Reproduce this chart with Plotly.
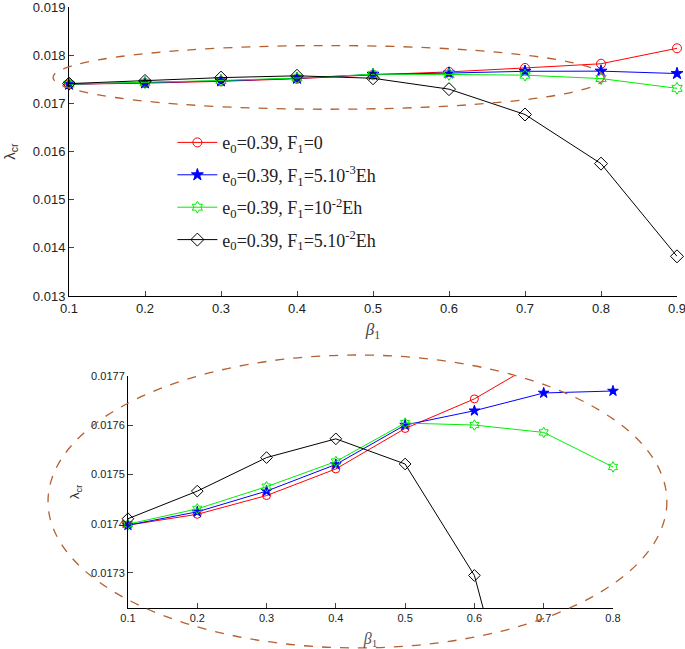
import plotly.graph_objects as go

# 資料
beta1 = [0.1, 0.2, 0.3, 0.4, 0.5, 0.6, 0.7, 0.8, 0.9]
lam_f0 = [0.017397, 0.017419, 0.017457, 0.017511, 0.017593, 0.017653, 0.017735, 0.017822, 0.018143]
lam_f5e3 = [0.017397, 0.017424, 0.017466, 0.017520, 0.017600, 0.017629, 0.017665, 0.017669, 0.017619]
lam_f1e2 = [0.017399, 0.017430, 0.017475, 0.017526, 0.017604, 0.017600, 0.017585, 0.017515, 0.017312]
lam_f5e2 = [0.017410, 0.017466, 0.017534, 0.017572, 0.017521, 0.017295, 0.016769, 0.015749, 0.013825]

names = ['e<sub>0</sub>=0.39, F<sub>1</sub>=0',
         'e<sub>0</sub>=0.39, F<sub>1</sub>=5.10<sup>-3</sup>Eh',
         'e<sub>0</sub>=0.39, F<sub>1</sub>=10<sup>-2</sup>Eh',
         'e<sub>0</sub>=0.39, F<sub>1</sub>=5.10<sup>-2</sup>Eh']
series = [lam_f0, lam_f5e3, lam_f1e2, lam_f5e2]
colors = ['#ff0000', '#0000ff', '#00ee00', '#000000']
symbols = ['circle-open', 'star', 'hexagram-open', 'diamond-open']
sizes = [9, 9, 9, 10]

top_x = [0.1, 0.9]
top_y = [0.013, 0.019]
bot_x = [0.1, 0.8]
bot_y = [0.017229, 0.0177]

fig = go.Figure()

# 上圖
for i in range(4):
    fig.add_trace(go.Scatter(x=beta1, y=series[i], mode='lines+markers', name=names[i],
                             legendgroup='g%d' % i,
                             line=dict(color=colors[i], width=1),
                             marker=dict(symbol=symbols[i], size=sizes[i], color=colors[i],
                                         line=dict(color=colors[i], width=1)),
                             cliponaxis=False, xaxis='x', yaxis='y'))

# 下圖 (放大) : 線全畫, 標記只畫範圍內
for i in range(4):
    fig.add_trace(go.Scatter(x=beta1, y=series[i], mode='lines', showlegend=False,
                             line=dict(color=colors[i], width=1), xaxis='x2', yaxis='y2'))
    inside = [(b, v) for b, v in zip(beta1, series[i])
              if bot_x[0] <= b <= bot_x[1] and bot_y[0] <= v <= bot_y[1]]
    fig.add_trace(go.Scatter(x=[p[0] for p in inside], y=[p[1] for p in inside],
                             mode='markers', showlegend=False,
                             marker=dict(symbol=symbols[i], size=sizes[i] - 1, color=colors[i],
                                         line=dict(color=colors[i], width=1)),
                             cliponaxis=False, xaxis='x2', yaxis='y2'))


# 橢圓 (以資料座標定義, 轉成 domain 比例以免被裁切)
def ellipse(xr, yr, ex, ey, xa, ya):
    fx = [(v - xr[0]) / (xr[1] - xr[0]) for v in ex]
    fy = [(v - yr[0]) / (yr[1] - yr[0]) for v in ey]
    fig.add_shape(type='circle', xref=xa + ' domain', yref=ya + ' domain',
                  x0=fx[0], x1=fx[1], y0=fy[0], y1=fy[1],
                  line=dict(color='#b5602e', width=1.3, dash='dash'))


ellipse(top_x, top_y, [0.079, 0.804], [0.016878, 0.01820], 'x', 'y')
ellipse(bot_x, bot_y, [-0.0154, 0.8778], [0.017148, 0.017742], 'x2', 'y2')

tickfont = dict(family='Liberation Sans, Arial', size=13, color='#222')
smallfont = dict(family='Liberation Sans, Arial', size=11, color='#222')
axis_common = dict(ticks='inside', ticklen=5, showline=True, linecolor='black', linewidth=1,
                   showgrid=False, zeroline=False, automargin=False, ticklabeloverflow='allow')

fig.update_layout(
    width=685, height=649,
    margin=dict(l=69, r=8, t=7, b=41, autoexpand=False),
    plot_bgcolor='white', paper_bgcolor='white',
    xaxis=dict(domain=[0, 1], anchor='y', range=top_x, tickvals=beta1,
               ticktext=['%.1f' % b for b in beta1], tickfont=tickfont,
               title=dict(text='<i>β</i><sub>1</sub>', standoff=8,
                          font=dict(family='Liberation Serif', size=17, color='#444')),
               **axis_common),
    yaxis=dict(domain=[0.519, 1], anchor='x', range=top_y, dtick=0.001,
               tickformat='.3f', tickfont=tickfont,
               title=dict(text='λ<sub>cr</sub>', standoff=13,
                          font=dict(family='Liberation Sans', size=15, color='#333')),
               **axis_common),
    xaxis2=dict(domain=[0.097, 0.8947], anchor='y2', range=bot_x, tickvals=beta1[:8],
                ticktext=['%.1f' % b for b in beta1[:8]], tickfont=smallfont,
                title=dict(text='<i>β</i><sub>1</sub>', standoff=9,
                           font=dict(family='Liberation Serif', size=16, color='#555')),
                **axis_common),
    yaxis2=dict(domain=[0, 0.3865], anchor='x2', range=bot_y,
                tickvals=[0.0173, 0.0174, 0.0175, 0.0176, 0.0177],
                tickformat='.4f', tickfont=smallfont,
                title=dict(text='λ<sub>cr</sub>', standoff=8,
                           font=dict(family='Liberation Sans', size=13, color='#333')),
                **axis_common),
    legend=dict(x=0.17, y=0.805, xanchor='left', yanchor='top', bgcolor='rgba(0,0,0,0)',
                font=dict(family='Liberation Serif, Times New Roman', size=18, color='#222'),
                tracegroupgap=6, itemwidth=40),
    showlegend=True,
)

# 去掉頁面預設的 body 邊距, 讓圖從左上角開始
fig.write_html("out.html", config={'displayModeBar': False},
               post_script="document.body.style.margin='0px';")
